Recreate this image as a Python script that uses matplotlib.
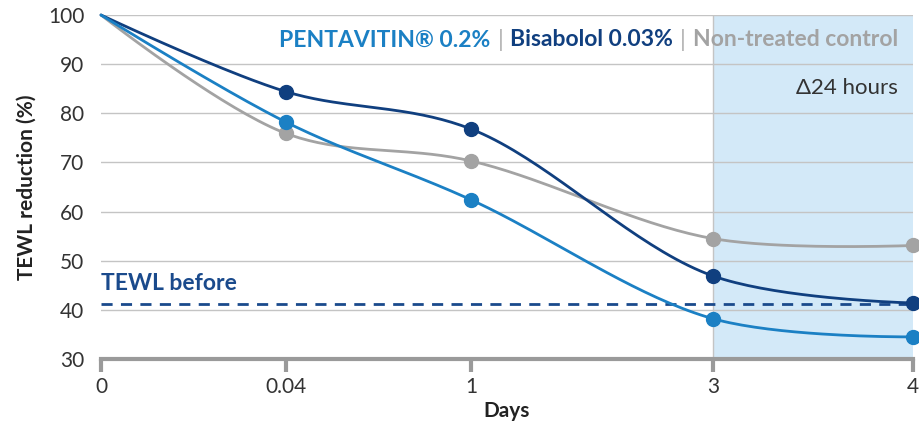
import matplotlib
matplotlib.use("Agg")
import matplotlib.pyplot as plt
from matplotlib.offsetbox import TextArea, HPacker, AnchoredOffsetbox
import numpy as np

plt.rcParams['font.family'] = ['Lato', 'DejaVu Sans']

days = ["0", "0.04", "1", "3", "4"]
# uneven spacing of the categories on the x axis
pos = np.array([0, 185, 370, 612, 812])

pentavitin = [100, 78.2, 62.4, 38.2, 34.5]
bisabolol = [100, 84.4, 76.8, 46.9, 41.4]
control = [100, 75.9, 70.3, 54.5, 53.1]
tewl_before = 41.2

c_penta = "#1b80c4"
c_bisa = "#103f7f"
c_ctrl = "#a3a3a3"

YSCALE = 344 / 70  # px per unit, so the spline works in screen space


def catmull(x, y, alpha=0.5, n=40):
    # centripetal catmull-rom, end points kept as their own control points
    p = np.column_stack([x, np.array(y) * YSCALE]).astype(float)
    t = np.linspace(0, 1, n)[:, None]
    out = []
    for i in range(len(p) - 1):
        p1, p2 = p[i], p[i + 1]
        l12_2a = np.sum((p2 - p1) ** 2) ** alpha
        l12_a = np.sqrt(l12_2a)
        c1, c2 = p1.copy(), p2.copy()
        if i > 0:
            p0 = p[i - 1]
            l01_2a = np.sum((p1 - p0) ** 2) ** alpha
            l01_a = np.sqrt(l01_2a)
            a = 2 * l01_2a + 3 * l01_a * l12_a + l12_2a
            nn = 3 * l01_a * (l01_a + l12_a)
            c1 = (p1 * a - p0 * l12_2a + p2 * l01_2a) / nn
        if i < len(p) - 2:
            p3 = p[i + 2]
            l23_2a = np.sum((p3 - p2) ** 2) ** alpha
            l23_a = np.sqrt(l23_2a)
            b = 2 * l23_2a + 3 * l23_a * l12_a + l12_2a
            m = 3 * l23_a * (l23_a + l12_a)
            c2 = (p2 * b + p1 * l23_2a - p3 * l12_2a) / m
        seg = ((1 - t) ** 3) * p1 + 3 * ((1 - t) ** 2) * t * c1 + 3 * (1 - t) * t ** 2 * c2 + t ** 3 * p2
        out.append(seg)
    out = np.vstack(out)
    return out[:, 0], out[:, 1] / YSCALE


fig = plt.figure(figsize=(9.2, 4.28), dpi=100)
ax = fig.add_axes([101 / 920, 1 - 359 / 428, 812 / 920, 344 / 428])
ax.set_xlim(0, 812)
ax.set_ylim(30, 100)

# shaded 24h window
ax.axvspan(pos[3], pos[4], color="#d3e9f8", zorder=0, lw=0)
ax.axvline(pos[3], color="#c4c4c4", lw=1, zorder=0.5)

for yv in range(40, 101, 10):
    ax.axhline(yv, color="#c4c4c4", lw=1, zorder=1)

ax.axhline(tewl_before, color="#1a4a8c", lw=2, ls=(0, (4, 3)), zorder=2)
ax.text(0, tewl_before + 2.0, "TEWL before", color="#1a4a8c", fontsize=16.5,
        fontweight="bold", va="bottom", ha="left")

for vals, col, z in [(control, c_ctrl, 3), (bisabolol, c_bisa, 4), (pentavitin, c_penta, 5)]:
    sx, sy = catmull(pos, vals)
    ax.plot(sx, sy, color=col, lw=2.0, zorder=z, clip_on=False, solid_capstyle="round")
    ax.plot(pos[1:], vals[1:], "o", color=col, ms=10, zorder=z, clip_on=False)

for s in ["top", "right", "left"]:
    ax.spines[s].set_visible(False)
ax.spines["bottom"].set_color("#9a9a9a")
ax.spines["bottom"].set_linewidth(3)
ax.spines["bottom"].set_zorder(6)

ax.set_xticks(pos)
ax.set_xticklabels(days)
ax.set_yticks(range(30, 101, 10))
ax.tick_params(axis="x", length=9, width=3, color="#9a9a9a", labelsize=15,
               labelcolor="#333333", pad=4)
ax.tick_params(axis="y", length=0, labelsize=15, labelcolor="#333333", pad=12)

ax.set_xlabel("Days", fontsize=15, fontweight="bold", color="#222222", labelpad=3)
ax.set_ylabel("TEWL reduction (%)", fontsize=15, fontweight="bold", color="#222222", labelpad=8)

ax.text(797, 85.2, "Δ24 hours", fontsize=16, color="#333333", ha="right", va="center")

bold = dict(fontsize=16.5, fontweight="bold")
parts = [
    TextArea("PENTAVITIN® 0.2%", textprops=dict(color=c_penta, **bold)),
    TextArea("|", textprops=dict(color="#b0b0b0", fontsize=16.5)),
    TextArea("Bisabolol 0.03%", textprops=dict(color=c_bisa, **bold)),
    TextArea("|", textprops=dict(color="#b0b0b0", fontsize=16.5)),
    TextArea("Non-treated control", textprops=dict(color=c_ctrl, **bold)),
]
box = HPacker(children=parts, align="center", pad=0, sep=5)
anc = AnchoredOffsetbox(loc="upper right", child=box, pad=0, frameon=False,
                        bbox_to_anchor=(898 / 920, 1 - 29 / 428),
                        bbox_transform=fig.transFigure, borderpad=0)
ax.add_artist(anc)

fig.savefig("out.png", dpi=100)
